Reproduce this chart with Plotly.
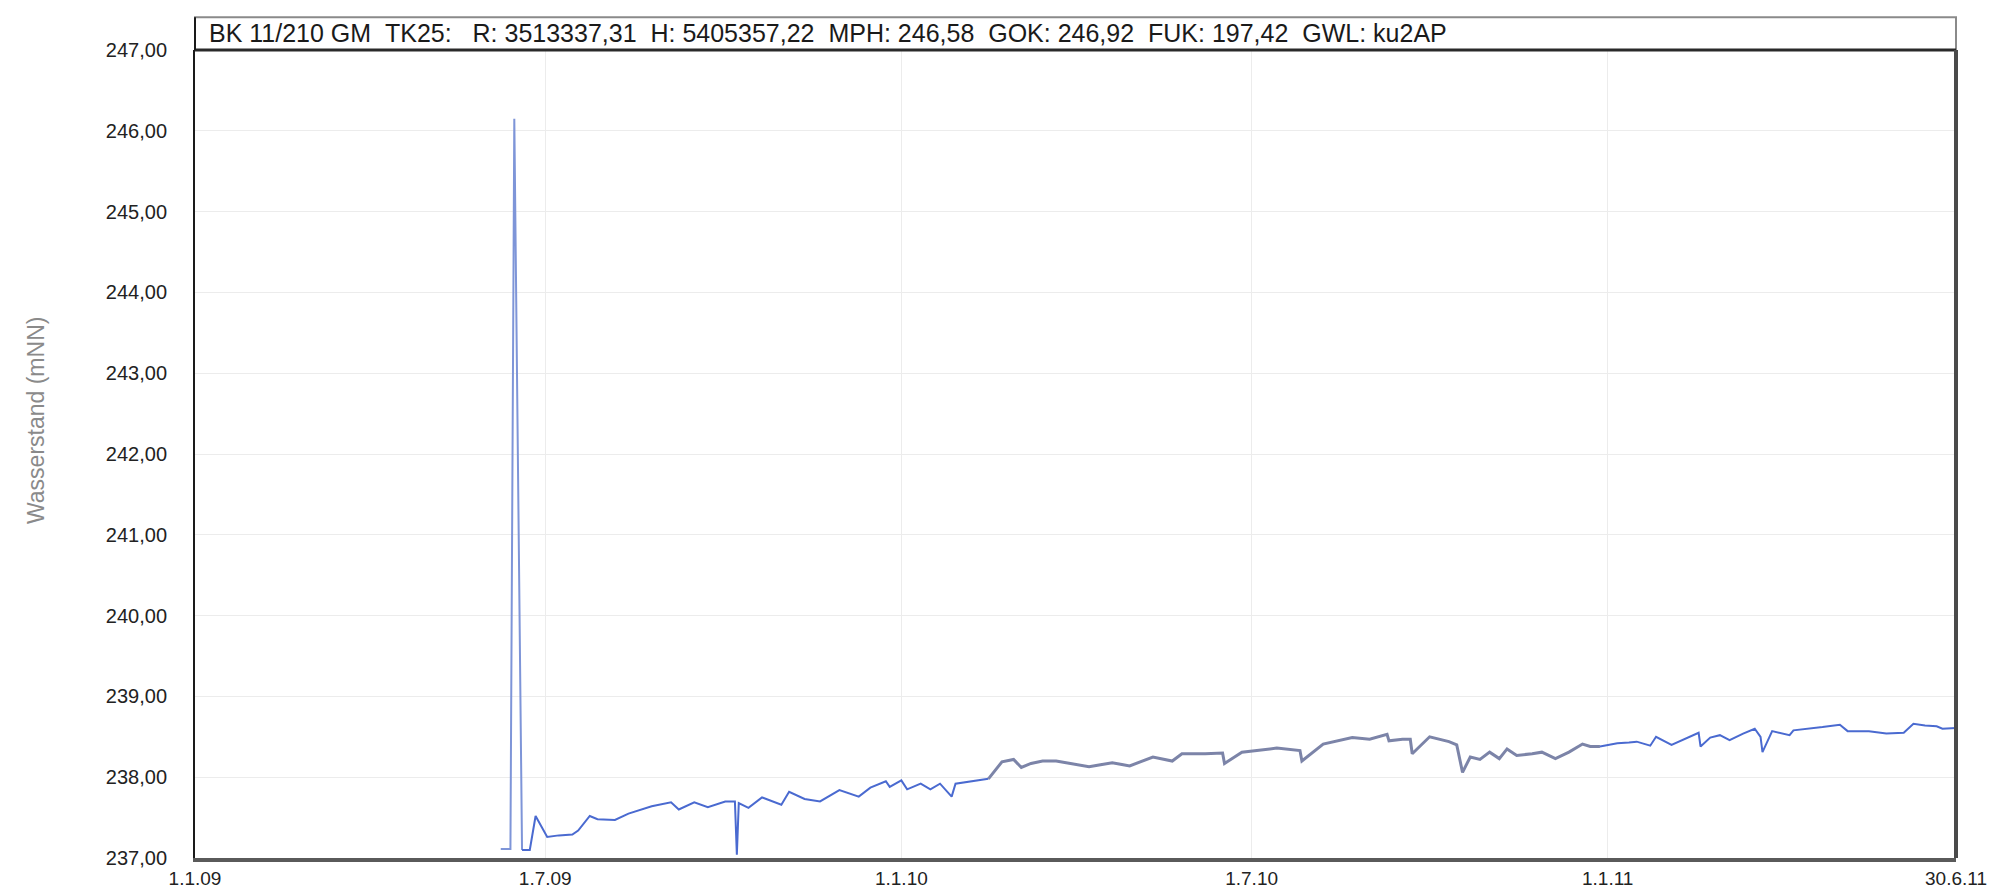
import plotly.graph_objects as go

# ---- data ----
dates = [
    "2009-06-08", "2009-06-13", "2009-06-15", "2009-06-19", "2009-06-23", "2009-06-26", "2009-07-02",
    "2009-07-08", "2009-07-15", "2009-07-18", "2009-07-24", "2009-07-28", "2009-08-06", "2009-08-13",
    "2009-08-25", "2009-09-04", "2009-09-08", "2009-09-16", "2009-09-23", "2009-10-02", "2009-10-07",
    "2009-10-08", "2009-10-09", "2009-10-14", "2009-10-21", "2009-10-31", "2009-11-04", "2009-11-12",
    "2009-11-20", "2009-11-30", "2009-12-10", "2009-12-16", "2009-12-24", "2009-12-26", "2010-01-01",
    "2010-01-04", "2010-01-11", "2010-01-16", "2010-01-21", "2010-01-27", "2010-01-29", "2010-02-15",
    "2010-02-18", "2010-02-22", "2010-02-28", "2010-03-04", "2010-03-09", "2010-03-15", "2010-03-22",
    "2010-03-30", "2010-04-08", "2010-04-20", "2010-04-29", "2010-05-11", "2010-05-21", "2010-05-26",
    "2010-06-07", "2010-06-16", "2010-06-17", "2010-06-26", "2010-07-14", "2010-07-26", "2010-07-27",
    "2010-08-07", "2010-08-22", "2010-08-31", "2010-09-09", "2010-09-10", "2010-09-17", "2010-09-21",
    "2010-09-22", "2010-10-01", "2010-10-11", "2010-10-15", "2010-10-18", "2010-10-22", "2010-10-27",
    "2010-11-01", "2010-11-06", "2010-11-10", "2010-11-15", "2010-11-23", "2010-11-28", "2010-12-05",
    "2010-12-12", "2010-12-19", "2010-12-23", "2010-12-28", "2011-01-06", "2011-01-12", "2011-01-16",
    "2011-01-23", "2011-01-26", "2011-02-03", "2011-02-12", "2011-02-17", "2011-02-18", "2011-02-23",
    "2011-02-28", "2011-03-05", "2011-03-12", "2011-03-18", "2011-03-21", "2011-03-22", "2011-03-27",
    "2011-04-05", "2011-04-07", "2011-04-15", "2011-04-22", "2011-05-01", "2011-05-05", "2011-05-16",
    "2011-05-25", "2011-06-03", "2011-06-08", "2011-06-14", "2011-06-20", "2011-06-23", "2011-06-30",
]
levels = [
    237.11, 237.11, 246.15, 237.10, 237.10, 237.52, 237.26,
    237.28, 237.29, 237.34, 237.52, 237.48, 237.47, 237.55,
    237.64, 237.69, 237.60, 237.69, 237.63, 237.70, 237.70,
    237.04, 237.68, 237.62, 237.75, 237.66, 237.82, 237.73,
    237.70, 237.84, 237.76, 237.87, 237.95, 237.88, 237.96,
    237.85, 237.92, 237.85, 237.92, 237.76, 237.92, 237.98,
    238.07, 238.19, 238.22, 238.12, 238.17, 238.20, 238.20,
    238.17, 238.13, 238.18, 238.14, 238.25, 238.20, 238.29,
    238.29, 238.30, 238.17, 238.31, 238.36, 238.33, 238.20,
    238.41, 238.49, 238.47, 238.53, 238.45, 238.47, 238.47,
    238.29, 238.50, 238.44, 238.40, 238.06, 238.25, 238.22,
    238.31, 238.23, 238.35, 238.27, 238.29, 238.31, 238.23,
    238.31, 238.41, 238.38, 238.38, 238.42, 238.43, 238.44,
    238.39, 238.50, 238.40, 238.50, 238.55, 238.38, 238.49,
    238.52, 238.46, 238.54, 238.60, 238.50, 238.31, 238.57,
    238.52, 238.58, 238.60, 238.62, 238.65, 238.57, 238.57,
    238.54, 238.55, 238.66, 238.64, 238.63, 238.60, 238.61,
]

x_tick_vals = ["2009-01-01", "2009-07-01", "2010-01-01", "2010-07-01", "2011-01-01", "2011-06-30"]
x_tick_text = ["1.1.09", "1.7.09", "1.1.10", "1.7.10", "1.1.11", "30.6.11"]
y_tick_vals = [237, 238, 239, 240, 241, 242, 243, 244, 245, 246, 247]

header = ("BK 11/210 GM  TK25:   R: 3513337,31  H: 5405357,22  MPH: 246,58  "
          "GOK: 246,92  FUK: 197,42  GWL: ku2AP")
y_title = "Wasserstand (mNN)"

# ---- segments (styling only) ----
def idx(d):
    return dates.index(d)

i0 = idx("2009-06-19")
i1 = idx("2010-02-15")
i2 = idx("2010-12-28")
segments = [
    (0, i0 + 1, "#7e95d8", 2),
    (i0, i1 + 1, "#4a6ad0", 2),
    (i1, i2 + 1, "#7c84a8", 3),
    (i2, len(dates), "#4a6ad0", 2),
]

fig = go.Figure()
for a, b, col, w in segments:
    fig.add_trace(go.Scatter(x=dates[a:b], y=levels[a:b], mode="lines",
                             line=dict(color=col, width=w), showlegend=False))

font_family = "Liberation Sans, Arial, sans-serif"

fig.update_layout(
    width=2006, height=893,
    margin=dict(l=187, r=58, t=42, b=38),
    paper_bgcolor="white", plot_bgcolor="white",
    separators=",.",
    font=dict(family=font_family, color="#222", size=19),
    showlegend=False,
)
fig.update_xaxes(
    type="date", range=["2009-01-01", "2011-06-30"],
    tickvals=x_tick_vals, ticktext=x_tick_text,
    showgrid=True, gridcolor="#ececec", gridwidth=1,
    showline=True, linecolor="#5a5a5a", linewidth=4,
    ticks="", tickfont=dict(size=19, color="#222"),
    zeroline=False,
)
fig.update_yaxes(
    range=[237, 247], tickvals=y_tick_vals, tickformat=".2f",
    showgrid=True, gridcolor="#ececec", gridwidth=1,
    showline=True, linecolor="#1a1a1a", linewidth=2,
    ticks="", ticklabelstandoff=22, tickfont=dict(size=20, color="#222"),
    zeroline=False,
)

# plot frame: top and right borders
fig.add_shape(type="line", xref="paper", yref="paper", x0=0, x1=1, y0=1, y1=1,
              line=dict(color="#2a2a2a", width=3))
fig.add_shape(type="line", xref="paper", yref="paper", x0=1, x1=1, y0=0, y1=1,
              line=dict(color="#4a4a4a", width=4))
# header box
fig.add_shape(type="rect", xref="paper", yref="paper", x0=0, x1=1, y0=1, y1=1.0406,
              line=dict(color="#8a8a8a", width=2), fillcolor="white", layer="below")
fig.add_shape(type="line", xref="paper", yref="paper", x0=0, x1=0, y0=1, y1=1.0406,
              line=dict(color="#1a1a1a", width=2))
fig.add_annotation(xref="paper", yref="paper", x=0.007, y=1.0206, xanchor="left", yanchor="middle",
                   text=header.replace(" ", "\u00a0"), showarrow=False,
                   font=dict(size=25, color="#1a1a1a", family=font_family))
fig.add_annotation(xref="paper", yref="paper", x=-0.0903, y=0.542, textangle=-90,
                   xanchor="center", yanchor="middle", text=y_title, showarrow=False,
                   font=dict(size=23, color="#8a8a8a", family=font_family))

fig.write_html("out.html")
